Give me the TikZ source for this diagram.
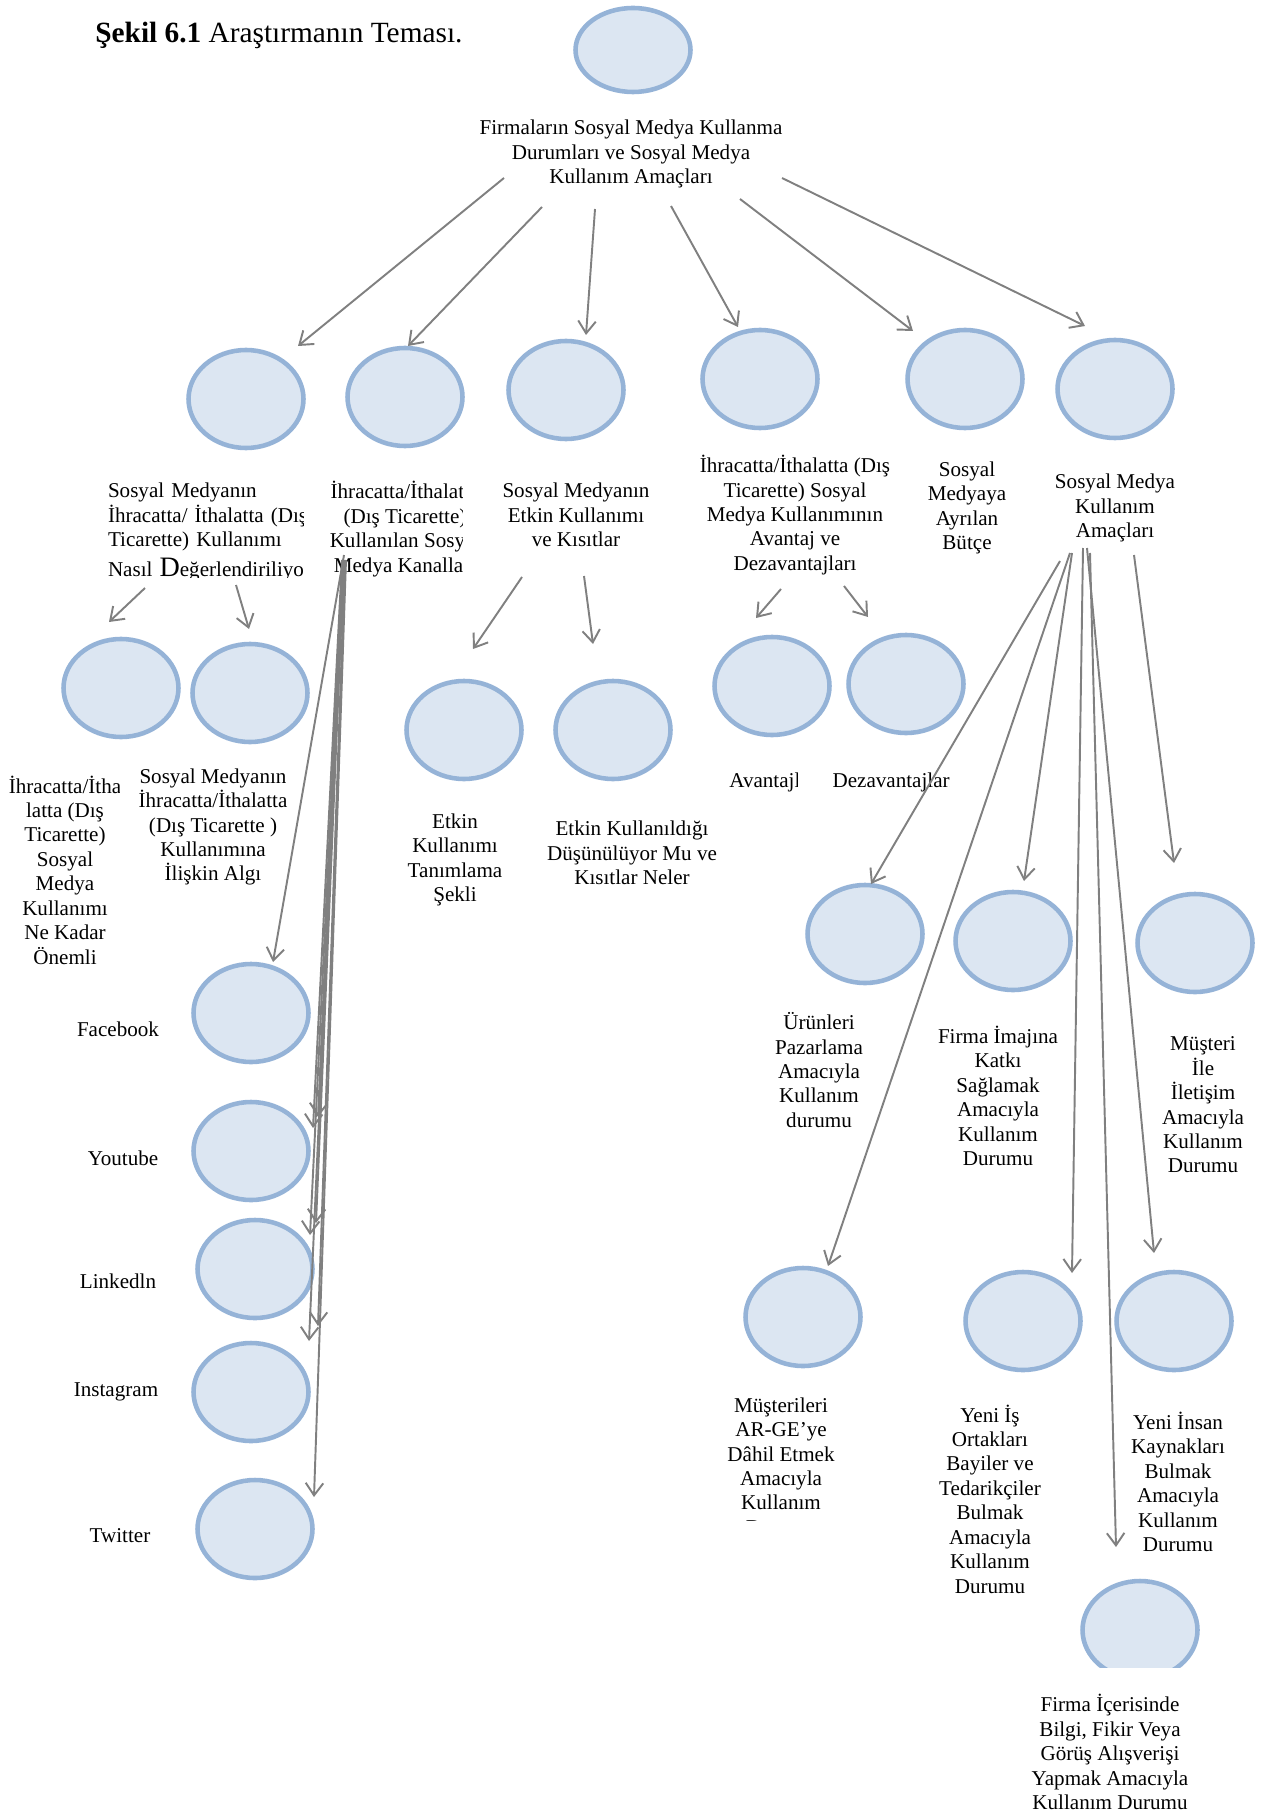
\documentclass[tikz,border=0pt]{standalone}
\usepackage{fontspec}
\setmainfont{Liberation Serif}
\usepackage{xcolor}
\usetikzlibrary{shapes.geometric,arrows.meta,calc}
\definecolor{bulleFond}{RGB}{220,230,242}
\definecolor{bulleBord}{RGB}{149,179,215}
\definecolor{fleche}{RGB}{128,128,128}

\begin{document}
\begin{tikzpicture}[x=0.02cm, y=-0.02cm,
    bulle/.style={ellipse, draw=bulleBord, fill=bulleFond, line width=2.6pt,
        minimum width=2.3cm, minimum height=1.96cm, inner sep=0pt},
    texte/.style={inner sep=0pt, align=center, font=\fontsize{12}{13.9}\selectfont},
    arr/.style={-{Straight Barb[length=7pt,width=10pt]}, draw=fleche, line width=1.1pt}]
\useasboundingbox (0,0) rectangle (1262,1814);

% Titre
\node[anchor=west, inner sep=0pt, font=\fontsize{16.7}{20}\selectfont] (titre) at (95,35)
    {\textbf{Şekil 6.1} Araştırmanın Teması.};

% Les bulles
\node[bulle, minimum height=1.68cm] (top) at (633,50) {};
\foreach \x/\y/\nom in {246/399/a, 405/397/b, 566/390/c, 760/379/d, 965/379/e, 1115/389/f,
    121/688/a1, 250/693/a2, 464/730/c1, 613/730/c2, 772/686/d1, 906/684/d2,
    251/1013/fb, 251/1151/yt, 255/1269/li, 251/1392/ig, 255/1529/tw,
    865/934/f1, 1013/941/f2, 1195/943/f3, 803/1317/f4, 1023/1321/f5, 1174/1321/f6}{
    \node[bulle] (\nom) at (\x,\y) {};
}
\begin{scope}
    \clip (1000,1560) rectangle (1280,1667);
    \node[bulle] (f7) at (1140,1630) {};
\end{scope}

% Les textes
\node[texte] (topT) at (631,154) {Firmaların Sosyal Medya Kullanma\\Durumları ve Sosyal Medya\\Kullanım Amaçları};
\begin{scope}
    \clip (90,470) rectangle (303,577);
    \node[texte, align=left, text width=4.4cm] (aT) at (218,532)
        {Sosyal Medyanın\\İhracatta/ İthalatta (Dış\\Ticarette) Kullanımı\\[3pt]Nasıl {\fontsize{16}{13.9}\selectfont D}eğerlendiriliyor};
\end{scope}
\begin{scope}
    \clip (300,470) rectangle (462,600);
    \node[texte] (bT) at (405,529) {İhracatta/İthalatta\\(Dış Ticarette)\\Kullanılan Sosyal\\Medya Kanalları};
\end{scope}
\node[texte] (cT) at (576,515) {Sosyal Medyanın\\Etkin Kullanımı\\ve Kısıtlar};
\node[texte] (dT) at (795,515) {İhracatta/İthalatta (Dış\\Ticarette) Sosyal\\Medya Kullanımının\\Avantaj ve\\Dezavantajları};
\node[texte] (eT) at (967,508) {Sosyal\\Medyaya\\Ayrılan\\Bütçe};
\node[texte] (fT) at (1115,508) {Sosyal Medya\\Kullanım\\Amaçları};

\begin{scope}
    \clip (0,760) rectangle (119,980);
    \node[texte] (a1T) at (65,870) {İhracatta/İtha\\latta (Dış\\Ticarette)\\Sosyal\\Medya\\Kullanımı\\Ne Kadar\\Önemli};
\end{scope}
\node[texte] (a2T) at (213,827) {Sosyal Medyanın\\İhracatta/İthalatta\\(Dış Ticarette )\\Kullanımına\\İlişkin Algı};
\node[texte] (c1T) at (455,860) {Etkin\\Kullanımı\\Tanımlama\\Şekli};
\node[texte] (c2T) at (632,853) {Etkin Kullanıldığı\\Düşünülüyor Mu ve\\Kısıtlar Neler};
\begin{scope}
    \clip (700,760) rectangle (797,800);
    \node[texte] (d1T) at (776,782) {Avantajları};
\end{scope}
\begin{scope}
    \clip (820,760) rectangle (949,800);
    \node[texte] (d2T) at (894,782) {Dezavantajları};
\end{scope}

\foreach \x/\y/\nom/\txt in {118/1029/fbT/Facebook, 123/1158/ytT/Youtube, 118/1281/liT/Linkedln,
    116/1392/igT/Instagram, 120/1536/twT/Twitter}{
    \node[texte] (\nom) at (\x,\y) {\txt};
}

\node[texte] (f1T) at (819,1070) {Ürünleri\\Pazarlama\\Amacıyla\\Kullanım\\durumu};
\node[texte] (f2T) at (998,1096) {Firma İmajına\\Katkı\\Sağlamak\\Amacıyla\\Kullanım\\Durumu};
\node[texte] (f3T) at (1203,1105) {Müşteri\\İle\\İletişim\\Amacıyla\\Kullanım\\Durumu};
\begin{scope}
    \clip (700,1380) rectangle (880,1520);
    \node[texte] (f4T) at (781,1466) {Müşterileri\\AR-GE’ye\\Dâhil Etmek\\Amacıyla\\Kullanım\\Durumu};
\end{scope}
\node[texte] (f5T) at (990,1499) {Yeni İş\\Ortakları\\Bayiler ve\\Tedarikçiler\\Bulmak\\Amacıyla\\Kullanım\\Durumu};
\node[texte] (f6T) at (1178,1482) {Yeni İnsan\\Kaynakları\\Bulmak\\Amacıyla\\Kullanım\\Durumu};
\node[texte] (f7T) at (1110,1752) {Firma İçerisinde\\Bilgi, Fikir Veya\\Görüş Alışverişi\\Yapmak Amacıyla\\Kullanım Durumu};

% Les flèches (décalages depuis le centre des noeuds)
\foreach \src/\sx/\sy/\dst/\dx/\dy in {
    topT/-127/24/a/52/-53, topT/-89/53/b/3/-51, topT/-36/55/c/20/-55,
    topT/40/52/d/-22/-52, topT/109/45/e/-52/-48, topT/151/24/f/-30/-63,
    aT/-73/56/a1/-12/-66, aT/18/53/a2/-1/-64,
    bT/-61/26/fb/22/-51, bT/-63/31/yt/62/-23, bT/-62/31/yt/67/-34,
    bT/-62/31/li/55/-34, bT/-61/31/li/61/-46, bT/-61/31/ig/58/-51,
    bT/-60/31/ig/67/-66, bT/-59/31/tw/59/-32,
    cT/-54/62/c1/9/-81, cT/8/61/c2/-20/-86,
    dT/-14/74/d1/-16/-68, dT/49/71/d2/-38/-67,
    fT/-55/53/f1/6/-50, fT/-45/45/f4/25/-51, fT/-43/45/f2/11/-60,
    fT/-32/40/f5/49/-48, fT/-28/40/f6/-20/-68, fT/-25/45/f7/-24/-83,
    fT/19/47/f3/-21/-80}{
    \draw[arr] ($(\src)+(\sx,\sy)$) -- ($(\dst)+(\dx,\dy)$);
}
\end{tikzpicture}
\end{document}
